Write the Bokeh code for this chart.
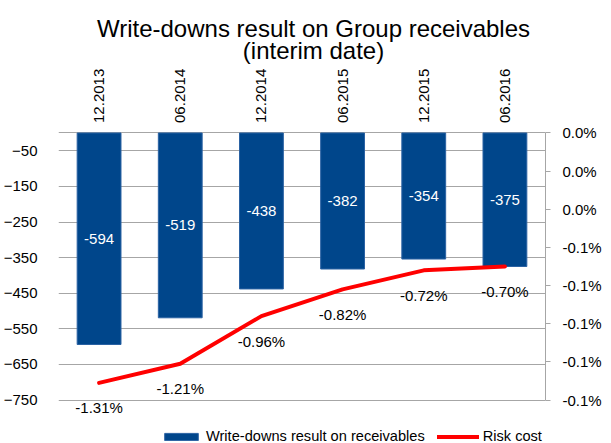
import math
from bokeh.plotting import figure
from bokeh.models import (Range1d, FactorRange, LinearAxis, FixedTicker, ColumnDataSource,
                          Label, Legend, LegendItem, CustomJSTickFormatter)
from bokeh.core.properties import value
from bokeh.embed import file_html
from bokeh.resources import INLINE

categories = ["12.2013", "06.2014", "12.2014", "06.2015", "12.2015", "06.2016"]
writedowns = [-594, -519, -438, -382, -354, -375]
risk_cost = [-1.31, -1.21, -0.96, -0.82, -0.72, -0.70]
left_ticks = [-50, -150, -250, -350, -450, -550, -650, -750]
right_ticks = [0.0, -0.2, -0.4, -0.6, -0.8, -1.0, -1.2, -1.4]
right_tick_labels = ["0.0%", "0.0%", "0.0%", "-0.1%", "-0.1%", "-0.1%", "-0.1%", "-0.1%"]
title_lines = ["Write-downs result on Group receivables", "(interim date)"]
legend_labels = ["Write-downs result on receivables", "Risk cost"]

# axis extents (value units)
LEFT_MIN, LEFT_MAX = -750, 0
RIGHT_MIN, RIGHT_MAX = -1.4, 0.0
# extra room above/below the value axes (for title, category labels, legend)
PAD_TOP, PAD_BOTTOM = 372, 122

FONT = "Liberation Sans"
BLUE = "#00468B"
RED = "#FF0000"
GRID = "#A6A6A6"

src = ColumnDataSource(dict(
    cat=categories,
    wd=writedowns,
    wd_mid=[v / 2 for v in writedowns],
    wd_txt=[str(v) for v in writedowns],
    rc=risk_cost,
    rc_txt=[f"{v:.2f}%" for v in risk_cost],
    axis0=[LEFT_MAX] * len(categories),
))

span = LEFT_MAX - LEFT_MIN
rscale = (RIGHT_MAX - RIGHT_MIN) / span

p = figure(width=611, height=443,
           x_range=FactorRange(factors=categories, range_padding=0),
           y_range=Range1d(LEFT_MIN - PAD_BOTTOM, LEFT_MAX + PAD_TOP),
           title=None, output_backend="svg", toolbar_location=None,
           min_border_left=58, min_border_right=66, min_border_top=0, min_border_bottom=0)
p.extra_y_ranges = {"pct": Range1d(RIGHT_MIN - PAD_BOTTOM * rscale, RIGHT_MAX + PAD_TOP * rscale)}
p.outline_line_color = None
p.background_fill_color = "white"
p.border_fill_color = "white"
p.xaxis.visible = False
p.xgrid.visible = False

bars = p.vbar(x="cat", top="wd", bottom=0, width=0.54, source=src,
              fill_color=BLUE, line_color="#2A62A3", line_width=1)
line = p.line(x="cat", y="rc", y_range_name="pct", source=src,
              line_color=RED, line_width=4, line_cap="round", line_join="round")

p.text(x="cat", y="wd_mid", text="wd_txt", source=src, text_color="white",
       text_font=value(FONT), text_font_size="15px",
       text_align="center", text_baseline="middle")
p.text(x="cat", y="rc", text="rc_txt", y_range_name="pct", source=src, text_color="black",
       text_font=value(FONT), text_font_size="15px",
       text_align="center", text_baseline="middle", y_offset=25)

# category labels along the top (value 0) axis, rotated
p.text(x="cat", y="axis0", text="cat", source=src, text_color="black",
       text_font=value(FONT), text_font_size="15px", angle=math.pi / 2,
       text_align="left", text_baseline="middle", y_offset=-10)

# left axis
ya = p.yaxis[0]
ya.ticker = FixedTicker(ticks=left_ticks)
ya.axis_line_color = None
ya.major_tick_line_color = None
ya.minor_tick_line_color = None
ya.major_label_standoff = 15
ya.major_label_text_font = FONT
ya.major_label_text_font_size = "15px"
ya.major_label_text_color = "black"
p.ygrid.ticker = FixedTicker(ticks=[LEFT_MAX] + left_ticks)
p.ygrid.grid_line_color = GRID
p.ygrid.grid_line_width = 1

# right axis
ra = LinearAxis(y_range_name="pct", ticker=FixedTicker(ticks=right_ticks),
                bounds=(RIGHT_MIN, RIGHT_MAX),
                formatter=CustomJSTickFormatter(
                    args=dict(vals=right_ticks, labels=right_tick_labels),
                    code="const i = vals.findIndex(v => Math.abs(v - tick) < 1e-9); return i >= 0 ? labels[i] : '';"))
ra.axis_line_color = GRID
ra.major_tick_line_color = GRID
ra.major_tick_in = 0
ra.major_tick_out = 5
ra.minor_tick_line_color = None
ra.major_label_standoff = 12
ra.major_label_text_font = FONT
ra.major_label_text_font_size = "15px"
ra.major_label_text_color = "black"
p.add_layout(ra, "right")

# title (screen units from the frame's bottom-left)
p.add_layout(Label(x=255, y=415, x_units="screen", y_units="screen", text=title_lines[0],
                   text_align="center", text_baseline="alphabetic",
                   text_font=FONT, text_font_size="24px", text_color="black"))
p.add_layout(Label(x=255, y=393, x_units="screen", y_units="screen", text=title_lines[1],
                   text_align="center", text_baseline="alphabetic",
                   text_font=FONT, text_font_size="24px", text_color="black"))

legend = Legend(items=[LegendItem(label=legend_labels[0], renderers=[bars]),
                       LegendItem(label=legend_labels[1], renderers=[line])],
                orientation="horizontal", location=(102, -1), padding=0, margin=0,
                spacing=12, glyph_width=42, glyph_height=9, label_standoff=4,
                border_line_color=None, background_fill_alpha=0,
                label_text_font=FONT, label_text_font_size="14.6px", label_text_color="black")
p.add_layout(legend)

open("out.html", "w").write(file_html(p, INLINE))
